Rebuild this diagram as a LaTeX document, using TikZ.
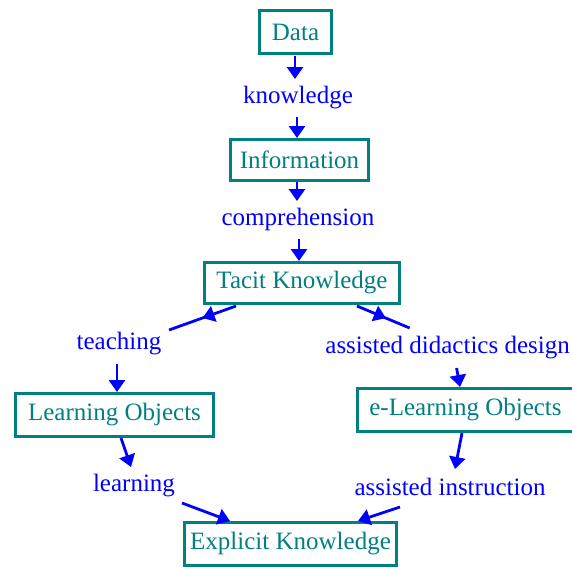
\documentclass[tikz,border=0pt]{standalone}
\usepackage{fontspec}
\setmainfont{Liberation Serif}
\usetikzlibrary{arrows.meta,decorations.markings}
\definecolor{boxteal}{RGB}{0,128,128}
\definecolor{linkblue}{RGB}{0,0,255}
\begin{document}
\begin{tikzpicture}[x=1pt,y=-1pt,
  concept/.style={draw=boxteal, line width=3pt, text=boxteal,
    font=\fontsize{25}{28}\selectfont, inner sep=0pt},
  linkphrase/.style={text=linkblue, font=\fontsize{25}{28}\selectfont, inner sep=0pt},
  conn/.style={draw=linkblue, line width=2.8pt, -{Triangle[length=12pt,width=16pt]}},
  midconn/.style={draw=linkblue, line width=2.8pt, postaction={decorate},
    decoration={markings, mark=at position #1 with {\arrow{Triangle[length=12pt,width=16pt]}}}}
]
\useasboundingbox (0,0) rectangle (572,568);
\fill[white] (0,0) rectangle (572,568);

% concepts
\node[concept, minimum width=72pt, minimum height=43pt] (data) at (295.5,32) {Data};
\node[concept, minimum width=138pt, minimum height=41pt] (info) at (299.5,160) {Information};
\node[concept, minimum width=195pt, minimum height=41pt] (tacit) at (302,283) {Tacit Knowledge};
\node[concept, minimum width=198pt, minimum height=43pt] (lo) at (114.5,415) {Learning Objects};
\node[concept, minimum width=216pt, minimum height=43pt] (elo) at (465.5,410) {e-Learning Objects};
\node[concept, minimum width=212pt, minimum height=43pt] (expl) at (290.5,544) {Explicit Knowledge};

% linking phrases
\node[linkphrase] (know) at (298,98) {knowledge};
\node[linkphrase] (comp) at (298,219) {comprehension};
\node[linkphrase] (teach) at (119,344) {teaching};
\node[linkphrase, anchor=east] (add) at (570,348) {assisted didactics design};
\node[linkphrase] (ai) at (450,487) {assisted instruction};
\node[linkphrase] (learn) at (134,486) {learning};

% connectors
\draw[conn] ([shift={(-0.5,24)}]data.center) -- ([shift={(-3,-19)}]know.center);
\draw[conn] ([shift={(-1,19)}]know.center) -- ([shift={(-2.5,0)}]info.north);
\draw[conn] ([shift={(-2.5,0)}]info.south) -- ([shift={(-1,-18)}]comp.center);
\draw[conn] ([shift={(1,20)}]comp.center) -- ([shift={(-3,0)}]tacit.north);
\draw[midconn=0.5] ([shift={(-66,23)}]tacit.center) -- ([shift={(50,-14)}]teach.center);
\draw[conn] ([shift={(-2,20)}]teach.center) -- ([shift={(2.5,0)}]lo.north);
\draw[conn] ([shift={(6.5,0)}]lo.south) -- ([shift={(-3,-19)}]learn.center);
\draw[conn] ([shift={(48,17)}]learn.center) -- ([shift={(-60.5,0)}]expl.north);
\draw[midconn=0.55] ([shift={(55,23)}]tacit.center) -- ([shift={(-38,-20)}]add.center);
\draw[conn] ([shift={(9,20)}]add.center) -- ([shift={(-5.5,0)}]elo.north);
\draw[conn] ([shift={(-3.5,0)}]elo.south) -- ([shift={(5,-18)}]ai.center);
\draw[conn] ([shift={(-50,20)}]ai.center) -- ([shift={(67.5,0)}]expl.north);
\end{tikzpicture}
\end{document}
